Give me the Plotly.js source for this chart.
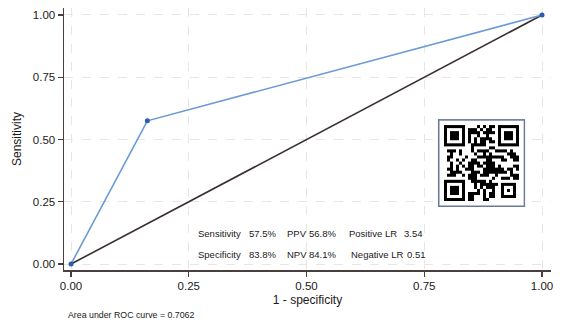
<!DOCTYPE html>
<html>
<head>
<meta charset="utf-8">
<script src="https://cdn.plot.ly/plotly-3.0.1.min.js"></script>
<style>html,body{margin:0;padding:0;background:#fff;}#chart{width:564px;height:322px;}</style>
</head>
<body>
<div id="chart"></div>
<script>
// ROC data
const fpr = [0, 0.162, 1];          // 1 - specificity
const tpr = [0, 0.575, 1];          // sensitivity
const refX = [0, 1];
const refY = [0, 1];
const tickVals = [0, 0.25, 0.5, 0.75, 1];
const tickText = ["0.00", "0.25", "0.50", "0.75", "1.00"];
const statLabels1 = ["Sensitivity", "57.5%", "PPV", "56.8%", "Positive LR", "3.54"];
const statLabels2 = ["Specificity", "83.8%", "NPV", "84.1%", "Negative LR", "0.51"];
const aucText = "Area under ROC curve = 0.7062";

// decorative QR-like image
function qrImage() {
  const n = 25, pad = 2, sc = 8;
  const c = document.createElement('canvas');
  c.width = (n + pad * 2) * sc; c.height = (n + pad * 2) * sc;
  const g = c.getContext('2d');
  g.fillStyle = '#fff'; g.fillRect(0, 0, c.width, c.height);
  let s = 12345;
  const rnd = () => { s = (s * 1103515245 + 12345) % 2147483648; return s / 2147483648; };
  const grid = [];
  for (let i = 0; i < n; i++) { grid.push([]); for (let j = 0; j < n; j++) grid[i].push(rnd() < 0.52); }
  function finder(r0, c0, size) {
    for (let i = -1; i <= size; i++) for (let j = -1; j <= size; j++) {
      const r = r0 + i, cc = c0 + j;
      if (r < 0 || cc < 0 || r >= n || cc >= n) continue;
      let on = false;
      if (i >= 0 && i < size && j >= 0 && j < size) {
        const m = size - 1;
        on = (i === 0 || i === m || j === 0 || j === m) || (i >= 2 && i <= m - 2 && j >= 2 && j <= m - 2);
      }
      grid[r][cc] = on;
    }
  }
  finder(0, 0, 7); finder(0, n - 7, 7); finder(n - 7, 0, 7); finder(n - 6, n - 6, 5);
  g.fillStyle = '#000';
  for (let i = 0; i < n; i++) for (let j = 0; j < n; j++)
    if (grid[i][j]) g.fillRect((j + pad) * sc, (i + pad) * sc, sc, sc);
  g.strokeStyle = '#6a7898'; g.lineWidth = 4;
  g.strokeRect(2, 2, c.width - 4, c.height - 4);
  return c.toDataURL('image/png');
}

const statX = [0.265, 0.374, 0.454, 0.501, 0.586, 0.703];
const statX2 = [0.265, 0.374, 0.454, 0.501, 0.590, 0.708];
const statFont = {family: 'Liberation Sans, Arial', size: 9.5, color: '#1a1a1a'};
const annotations = [];
statLabels1.forEach((t, i) => annotations.push({x: statX[i], y: 0.124, xref: 'x', yref: 'y', text: t, showarrow: false, xanchor: 'left', yanchor: 'middle', font: statFont}));
statLabels2.forEach((t, i) => annotations.push({x: statX2[i], y: 0.040, xref: 'x', yref: 'y', text: t, showarrow: false, xanchor: 'left', yanchor: 'middle', font: statFont}));
annotations.push({x: (66 - 64) / 487, y: -(315 - 270) / 262, xref: 'paper', yref: 'paper', text: aucText, showarrow: false, xanchor: 'left', yanchor: 'middle', font: {family: 'Liberation Sans, Arial', size: 8.8, color: '#1a1a1a'}});

const traces = [
  {x: refX, y: refY, type: 'scatter', mode: 'lines', line: {color: '#3a2f2f', width: 1.6}, hoverinfo: 'skip', showlegend: false},
  {x: fpr, y: tpr, type: 'scatter', mode: 'lines+markers', line: {color: '#6b9bd6', width: 1.6}, marker: {color: '#2c5cb0', size: 5}, showlegend: false}
];

const axisCommon = {
  tickvals: tickVals, ticktext: tickText, ticks: 'outside', ticklen: 5, tickwidth: 1.2, tickcolor: '#4a3f3f',
  showline: true, linecolor: '#4a3f3f', linewidth: 1.5, showgrid: true, gridcolor: '#e6e6e6', griddash: 'dash', gridwidth: 1,
  zeroline: false, tickfont: {family: 'Liberation Sans, Arial', size: 11.5, color: '#1a1a1a'}, fixedrange: true
};

const layout = {
  width: 564, height: 322,
  margin: {l: 64, r: 13, t: 8, b: 52},
  paper_bgcolor: '#fff', plot_bgcolor: '#fff',
  xaxis: Object.assign({}, axisCommon, {range: [-0.015, 1.019], title: {text: '1 - specificity', font: {family: 'Liberation Sans, Arial', size: 12, color: '#1a1a1a'}, standoff: 4}}),
  yaxis: Object.assign({}, axisCommon, {range: [-0.024, 1.028], title: {text: 'Sensitivity', font: {family: 'Liberation Sans, Arial', size: 12, color: '#1a1a1a'}, standoff: 8}}),
  annotations: annotations,
  images: [{source: qrImage(), xref: 'x', yref: 'y', x: 0.779, y: 0.582, sizex: 0.185, sizey: 0.353, sizing: 'stretch', xanchor: 'left', yanchor: 'top', layer: 'above'}],
  showlegend: false
};

Plotly.newPlot('chart', traces, layout, {displayModeBar: false, staticPlot: true});
</script>
</body>
</html>
